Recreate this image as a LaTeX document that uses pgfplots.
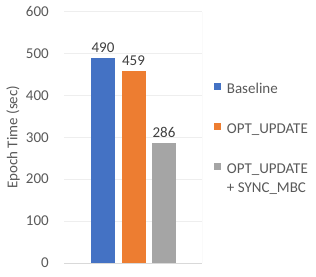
\documentclass[border=0pt]{standalone}
\usepackage{fontspec}
\setmainfont{Carlito}
\usepackage{pgfplots}
\pgfplotsset{compat=1.18}
\definecolor{cblue}{HTML}{4472C4}
\definecolor{corange}{HTML}{ED7D31}
\definecolor{cgray}{HTML}{A5A5A5}
\definecolor{txt}{HTML}{595959}
\definecolor{lbl}{HTML}{404040}
\definecolor{gridc}{HTML}{EEEEEE}
\definecolor{basec}{HTML}{D9D9D9}
\newcommand{\cf}{\fontsize{15bp}{18bp}\selectfont}
\begin{document}
\begin{tikzpicture}[x=1bp,y=1bp]
\useasboundingbox (0,0) rectangle (316,277);
\begin{axis}[
  at={(64bp,14bp)}, anchor=south west,
  scale only axis, width=138bp, height=251.5bp,
  xmin=-0.279, xmax=4.246, ymin=0, ymax=600,
  xtick=\empty,
  ytick={100,200,300,400,500,600},
  extra y ticks={0},
  extra y tick style={grid style={draw=basec, line width=0.8pt}},
  ymajorgrids, grid style={draw=gridc, line width=0.8pt},
  axis line style={draw=none},
  major tick length=0pt,
  tick label style={font=\cf, text=txt},
  /pgf/number format/assume math mode=true,
  yticklabel style={inner sep=0pt, xshift=-15bp},
  every axis y label/.style={at={(axis description cs:-0.3696,0.5)}, rotate=90, anchor=center},
  ylabel={Epoch Time (sec)},
  label style={font=\cf, text=txt},
  nodes near coords,
  every node near coord/.append style={font=\cf, text=lbl, inner sep=0pt, yshift=5bp, /pgf/number format/assume math mode=true},
  legend image code/.code={\fill[#1] (0bp,0bp) rectangle (7bp,7bp); \path (12.7bp,0bp);},
  legend style={draw=none, fill=none, inner sep=0pt, row sep=25bp,
    at={(rel axis cs:1,0.7177)}, anchor=north west, xshift=12bp,
    font=\cf, text=txt,
    nodes={inner sep=0pt, text height=11bp, text depth=4bp},
    /tikz/every even column/.style={column sep=0pt},
    /tikz/every odd column/.style={column sep=0pt}},
  legend cell align=left,
]
\addplot[ybar, bar width=24bp, bar shift=0pt, fill=cblue, draw=none] coordinates {(1,490)};
\addlegendentry{Baseline}
\addplot[ybar, bar width=24bp, bar shift=0pt, fill=corange, draw=none] coordinates {(2,459)};
\addlegendentry{OPT\_UPDATE}
\addplot[ybar, bar width=24bp, bar shift=0pt, fill=cgray, draw=none] coordinates {(3,286)};
\addlegendentry{\begin{tabular}[t]{@{}l@{}}OPT\_UPDATE\\[1bp]+ SYNC\_MBC\end{tabular}}
\draw[draw=basec, line width=0.8pt] (rel axis cs:1,0) -- (rel axis cs:1,1);
\end{axis}
\end{tikzpicture}
\end{document}
